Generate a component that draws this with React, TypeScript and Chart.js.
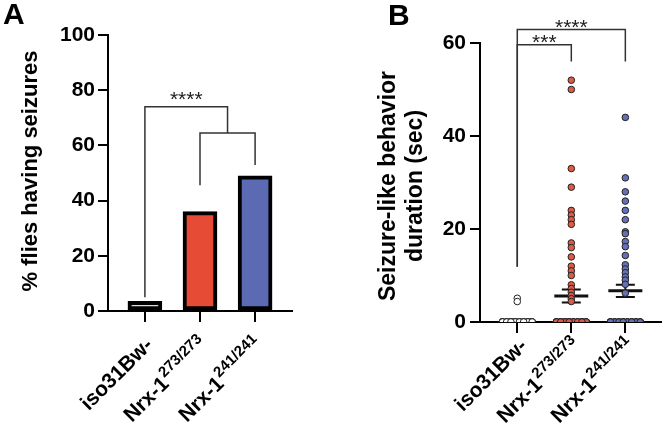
import React, { useEffect, useRef } from 'react';
import { Chart, registerables } from 'chart.js';

Chart.register(...registerables);

const FONT = '"Liberation Sans", Arial, Helvetica, sans-serif';

// ---------- Panel A data ----------
const genotypes = ['iso31Bw-', 'Nrx-1', 'Nrx-1'];
const genotypeSup = ['', '273/273', '241/241'];
const percentSeizures = [3.5, 36, 49];
const barFill = ['#d9d9d9', '#e64b35', '#5b6ab2'];
const yTicksA = [0, 20, 40, 60, 80, 100];
const bracketsA = [
  { x1: 1, x2: 2.5, y: 74, leg1: 5, leg2: 64.5, label: '****' },
  { x1: 2, x2: 3, y: 64.5, leg1: 45.6, leg2: 52.9, label: '' },
];

// ---------- Panel B data ----------
const isoDurations = [
  5.1, 4.4,
  0, 0, 0, 0, 0, 0, 0, 0, 0, 0, 0, 0, 0, 0, 0, 0, 0, 0, 0, 0, 0, 0, 0, 0,
  0, 0, 0, 0, 0, 0, 0, 0, 0, 0, 0, 0, 0, 0, 0, 0, 0, 0, 0, 0, 0, 0, 0, 0,
];
const nrx273Durations = [
  52, 50, 33, 29, 24, 23, 22, 21, 17, 16, 14, 12, 11, 10, 8, 7.2, 6.4, 5.7, 5, 4.4,
  0, 0, 0, 0, 0, 0, 0, 0, 0, 0, 0, 0, 0, 0, 0, 0, 0, 0, 0, 0, 0, 0, 0, 0,
  0, 0, 0, 0, 0, 0, 0, 0, 0, 0, 0, 0, 0, 0, 0, 0, 0, 0, 0, 0,
];
const nrx241Durations = [
  44, 31, 28, 26, 24, 22, 19.4, 19, 17.3, 16.2, 14.3, 12.3, 11.4, 10.6, 9.7, 9, 8.1, 6.2,
  0, 0, 0, 0, 0, 0, 0, 0, 0, 0, 0, 0, 0, 0, 0, 0, 0, 0, 0, 0, 0, 0, 0, 0,
  0, 0, 0, 0, 0, 0, 0, 0, 0, 0,
];
const durationMeans = [0.15, 5.6, 6.7];
const durationSems = [0.1, 1.4, 1.3];
const dotFill = ['#ffffff', '#dd5a47', '#6571b4'];
const yTicksB = [0, 20, 40, 60];
const bracketsB = [
  { x1: 1, x2: 3, y: 62.9, leg1: 11.9, leg2: 56, label: '****' },
  { x1: 1, x2: 2, y: 59.6, leg1: 11.9, leg2: 56, label: '***' },
];

const SWARM_SLOTS = 8;
const SWARM_HALF = 0.275; // half-width of the zero row, in category units

function swarm(values: number[], center: number) {
  let k = 0;
  return values.map((v) => {
    if (v !== 0) return { x: center, y: v };
    const slot = (k * 3) % SWARM_SLOTS;
    k += 1;
    const off = -SWARM_HALF + (2 * SWARM_HALF * slot) / (SWARM_SLOTS - 1);
    return { x: center + off, y: v };
  });
}

function drawXTickMarks(chart: any) {
  const { ctx, chartArea } = chart;
  const xs = chart.scales.x;
  ctx.save();
  ctx.strokeStyle = '#000';
  ctx.lineWidth = 2;
  ctx.beginPath();
  genotypes.forEach((_, i) => {
    const px = Math.round(xs.getPixelForValue(i + 1));
    ctx.moveTo(px, chartArea.bottom);
    ctx.lineTo(px, chartArea.bottom + 11);
  });
  ctx.stroke();
  ctx.restore();
}

function drawXLabels(chart: any, dx: number, dy: number) {
  const { ctx, chartArea } = chart;
  const xs = chart.scales.x;
  genotypes.forEach((g, i) => {
    const px = xs.getPixelForValue(i + 1) + dx;
    const py = chartArea.bottom + dy;
    ctx.save();
    ctx.translate(px, py);
    ctx.rotate(-Math.PI / 4);
    ctx.fillStyle = '#000';
    ctx.textBaseline = 'alphabetic';
    ctx.textAlign = 'left';
    ctx.font = `bold 21px ${FONT}`;
    const wm = ctx.measureText(g).width;
    ctx.font = `bold 15px ${FONT}`;
    const sup = genotypeSup[i];
    const ws = sup ? ctx.measureText(sup).width + 1 : 0;
    const start = -(wm + ws);
    ctx.font = `bold 21px ${FONT}`;
    ctx.fillText(g, start, 7);
    if (sup) {
      ctx.font = `bold 15px ${FONT}`;
      ctx.fillText(sup, start + wm + 1, -2);
    }
    ctx.restore();
  });
}

function drawBrackets(chart: any, brackets: any[], labelDy: number) {
  const { ctx } = chart;
  const xs = chart.scales.x;
  const ys = chart.scales.y;
  ctx.save();
  ctx.strokeStyle = '#333';
  ctx.lineWidth = 1.5;
  ctx.fillStyle = '#222';
  brackets.forEach((b) => {
    const x1 = xs.getPixelForValue(b.x1);
    const x2 = xs.getPixelForValue(b.x2);
    const y = ys.getPixelForValue(b.y);
    const l1 = ys.getPixelForValue(b.leg1);
    const l2 = ys.getPixelForValue(b.leg2);
    ctx.beginPath();
    ctx.moveTo(x1, l1);
    ctx.lineTo(x1, y);
    ctx.lineTo(x2, y);
    ctx.lineTo(x2, l2);
    ctx.stroke();
    if (b.label) {
      ctx.font = `21px ${FONT}`;
      ctx.textAlign = 'center';
      ctx.textBaseline = 'alphabetic';
      ctx.fillText(b.label, (x1 + x2) / 2, y + labelDy);
    }
  });
  ctx.restore();
}

function axisCommon() {
  return {
    offset: false,
    grid: {
      display: true,
      offset: false,
      drawOnChartArea: false,
      drawTicks: true,
      tickLength: 10,
      color: '#000',
      tickColor: '#000',
      lineWidth: 2,
      tickWidth: 2,
    },
    border: { display: true, color: '#000', width: 2 },
  };
}

function PanelA() {
  const ref = useRef<HTMLCanvasElement>(null);
  useEffect(() => {
    const plugin = {
      id: 'panelA',
      afterDraw(chart: any) {
        const { ctx } = chart;
        drawXTickMarks(chart);
        drawBrackets(chart, bracketsA, -1);
        drawXLabels(chart, 4, 30);
        ctx.save();
        ctx.fillStyle = '#000';
        ctx.font = `bold 30px ${FONT}`;
        ctx.textAlign = 'left';
        ctx.textBaseline = 'alphabetic';
        ctx.fillText('A', 3, 24);
        ctx.translate(31, 171);
        ctx.rotate(-Math.PI / 2);
        ctx.font = `bold 22px ${FONT}`;
        ctx.textAlign = 'center';
        ctx.textBaseline = 'middle';
        ctx.fillText('% flies having seizures', 0, 0);
        ctx.restore();
      },
    };
    const chart = new Chart(ref.current!, {
      type: 'bar',
      data: {
        datasets: [
          {
            data: percentSeizures.map((v, i) => ({ x: i + 1, y: v })),
            backgroundColor: barFill,
            borderColor: '#000',
            borderWidth: 4,
            borderSkipped: false,
            barThickness: 34,
          } as any,
        ],
      },
      options: {
        animation: false,
        responsive: false,
        layout: { padding: { left: 0, right: 41, top: 35, bottom: 0 } },
        plugins: { legend: { display: false }, tooltip: { enabled: false } },
        scales: {
          x: {
            type: 'linear',
            min: 0.33,
            max: 3.67,
            ...axisCommon(),
            ticks: { display: false },
            afterBuildTicks: (s: any) => {
              s.ticks = genotypes.map((_, i) => ({ value: i + 1 }));
            },
            afterFit: (s: any) => {
              s.height = 114;
            },
          } as any,
          y: {
            min: 0,
            max: 100,
            ...axisCommon(),
            ticks: {
              color: '#000',
              padding: 3,
              font: { family: FONT, size: 21, weight: 'bold' },
            },
            afterBuildTicks: (s: any) => {
              s.ticks = yTicksA.map((v) => ({ value: v }));
            },
            afterFit: (s: any) => {
              s.width = 108;
            },
          } as any,
        },
      },
      plugins: [plugin],
    });
    return () => chart.destroy();
  }, []);
  return <canvas ref={ref} width={333} height={425} style={{ position: 'absolute', left: 0, top: 0 }} />;
}

function PanelB() {
  const ref = useRef<HTMLCanvasElement>(null);
  useEffect(() => {
    const plugin = {
      id: 'panelB',
      beforeDatasetsDraw(chart: any) {
        const { ctx } = chart;
        const xs = chart.scales.x;
        const ys = chart.scales.y;
        drawXTickMarks(chart);
        ctx.save();
        ctx.strokeStyle = '#111';
        durationMeans.forEach((m, i) => {
          const cx = xs.getPixelForValue(i + 1);
          const ym = ys.getPixelForValue(m);
          const yu = ys.getPixelForValue(m + durationSems[i]);
          const yl = ys.getPixelForValue(m - durationSems[i]);
          ctx.lineWidth = 2;
          ctx.beginPath();
          ctx.moveTo(cx, yu);
          ctx.lineTo(cx, yl);
          ctx.moveTo(cx - 9.5, yu);
          ctx.lineTo(cx + 9.5, yu);
          ctx.moveTo(cx - 9.5, yl);
          ctx.lineTo(cx + 9.5, yl);
          ctx.stroke();
          ctx.lineWidth = 3;
          ctx.beginPath();
          ctx.moveTo(cx - 17, ym);
          ctx.lineTo(cx + 17, ym);
          ctx.stroke();
        });
        ctx.restore();
      },
      afterDraw(chart: any) {
        const { ctx } = chart;
        drawBrackets(chart, bracketsB, 4);
        drawXLabels(chart, 6, 20);
        ctx.save();
        ctx.fillStyle = '#000';
        ctx.font = `bold 30px ${FONT}`;
        ctx.textAlign = 'left';
        ctx.textBaseline = 'alphabetic';
        ctx.fillText('B', 55, 25);
        ctx.font = `bold 23px ${FONT}`;
        ctx.textAlign = 'center';
        ctx.textBaseline = 'middle';
        ctx.save();
        ctx.translate(56, 186);
        ctx.rotate(-Math.PI / 2);
        ctx.fillText('Seizure-like behavior', 0, 0);
        ctx.restore();
        ctx.translate(83, 186);
        ctx.rotate(-Math.PI / 2);
        ctx.fillText('duration (sec)', 0, 0);
        ctx.restore();
      },
    };
    const groups = [isoDurations, nrx273Durations, nrx241Durations];
    const chart = new Chart(ref.current!, {
      type: 'scatter',
      data: {
        datasets: groups.map((vals, i) => ({
          data: swarm(vals, i + 1),
          pointRadius: 3.3,
          pointBackgroundColor: dotFill[i],
          pointBorderColor: '#222',
          pointBorderWidth: 1,
        })) as any,
      },
      options: {
        animation: false,
        responsive: false,
        layout: { padding: { left: 0, right: 3, top: 43, bottom: 0 } },
        plugins: { legend: { display: false }, tooltip: { enabled: false } },
        scales: {
          x: {
            type: 'linear',
            min: 0.31,
            max: 3.66,
            ...axisCommon(),
            ticks: { display: false },
            afterBuildTicks: (s: any) => {
              s.ticks = genotypes.map((_, i) => ({ value: i + 1 }));
            },
            afterFit: (s: any) => {
              s.height = 103;
            },
          } as any,
          y: {
            min: 0,
            max: 60,
            ...axisCommon(),
            ticks: {
              color: '#000',
              padding: 4,
              font: { family: FONT, size: 21, weight: 'bold' },
            },
            afterBuildTicks: (s: any) => {
              s.ticks = yTicksB.map((v) => ({ value: v }));
            },
            afterFit: (s: any) => {
              s.width = 147;
            },
          } as any,
        },
      },
      plugins: [plugin],
    });
    return () => chart.destroy();
  }, []);
  return <canvas ref={ref} width={333} height={425} style={{ position: 'absolute', left: 333, top: 0 }} />;
}

export default function App() {
  return (
    <div style={{ position: 'absolute', left: 0, top: 0, width: 666, height: 425, background: '#fff' }}>
      <PanelA />
      <PanelB />
    </div>
  );
}
